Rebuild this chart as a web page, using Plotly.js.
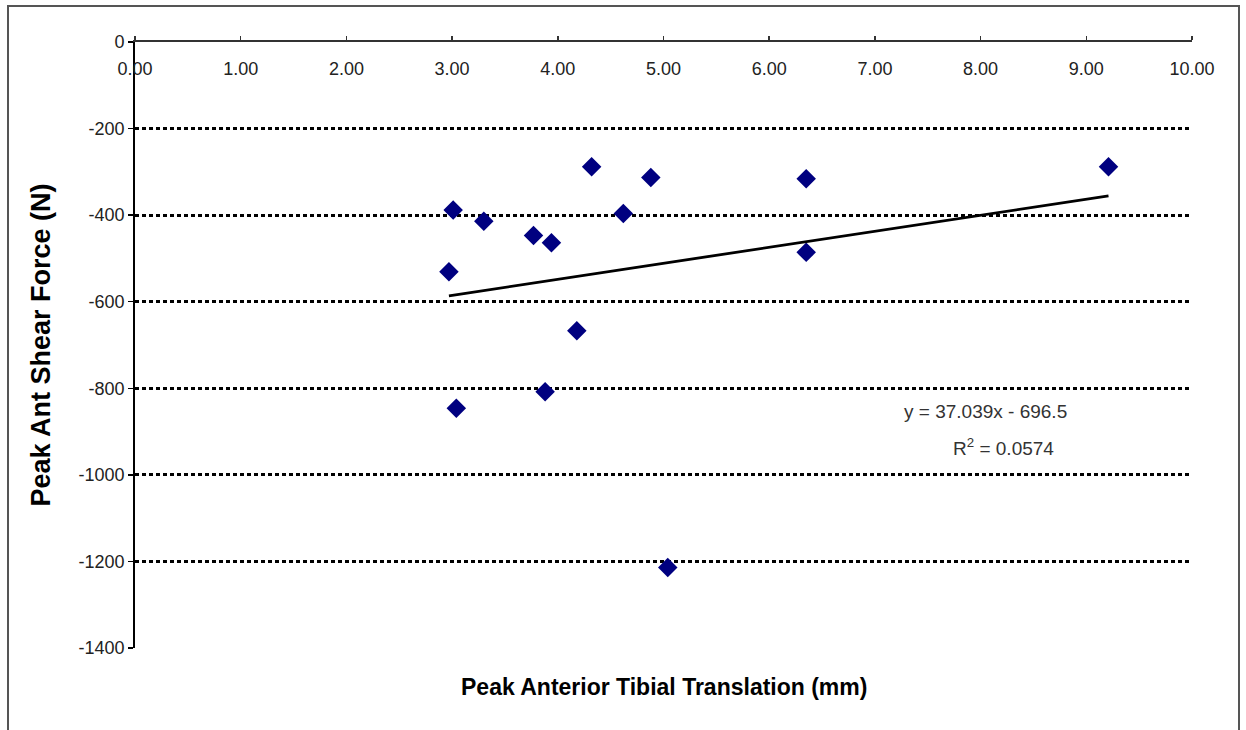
<!DOCTYPE html>
<html>
<head>
<meta charset="utf-8">
<script src="https://cdn.plot.ly/plotly-3.0.1.min.js"></script>
<style>html,body{margin:0;padding:0;background:#fff;}#chart{width:1246px;height:730px;}</style>
</head>
<body>
<div id="chart"></div>
<script>
// Data
const translationMm = [2.97, 3.01, 3.04, 3.30, 3.77, 3.94, 3.88, 4.18, 4.32, 4.62, 4.88, 5.04, 6.35, 6.35, 9.21];
const shearForceN   = [-531, -388, -846, -414, -447, -464, -808, -667, -288, -396, -313, -1214, -316, -486, -288];
const trendSlope = 37.039;
const trendIntercept = -696.5;
const trendR2 = 0.0574;
const xTickVals = [0,1,2,3,4,5,6,7,8,9,10];
const yTickVals = [0,-200,-400,-600,-800,-1000,-1200,-1400];
const yTickText = ['0','-200','-400','-600','-800','-1000','-1200','-1400'];

const xMin = Math.min(...translationMm), xMax = Math.max(...translationMm);
const trendX = [xMin, xMax];
const trendY = trendX.map(x => trendSlope * x + trendIntercept);

const data = [
  {x: translationMm, y: shearForceN, type: 'scatter', mode: 'markers',
   marker: {symbol: 'diamond', size: 15, color: '#000080'}, cliponaxis: false, showlegend: false},
  {x: trendX, y: trendY, type: 'scatter', mode: 'lines',
   line: {color: '#000', width: 2.8}, showlegend: false},
  // carrier for the tick-label axis (draws nothing)
  {x: trendX, y: trendY, xaxis: 'x2', yaxis: 'y', type: 'scatter', mode: 'none', showlegend: false, hoverinfo: 'skip'}
];

const layout = {
  width: 1246, height: 730,
  margin: {l: 135, r: 54, t: 42, b: 82},
  paper_bgcolor: '#fff', plot_bgcolor: '#fff',
  font: {family: 'Arial, Liberation Sans, sans-serif', size: 18, color: '#222'},
  showlegend: false,
  xaxis: {
    range: [0, 10], side: 'top', tickvals: xTickVals, showticklabels: false,
    ticks: 'outside', ticklen: 4, tickcolor: '#333', tickwidth: 1.5,
    showline: true, linecolor: '#333', linewidth: 1.8, showgrid: false, zeroline: false
  },
  xaxis2: {
    range: [0, 10], overlaying: 'x', anchor: 'free', position: (648 - 56) / 606, side: 'bottom',
    tickvals: xTickVals, tickformat: '.2f', ticks: '', showline: false, showgrid: false, zeroline: false,
    tickfont: {size: 18, color: '#222'}
  },
  yaxis: {
    range: [-1400, 0], tickvals: yTickVals, ticktext: yTickText,
    ticks: 'outside', ticklen: 5, tickcolor: '#000', tickwidth: 1.5,
    showline: true, linecolor: '#000', linewidth: 1.8, zeroline: false,
    showgrid: true, gridcolor: '#000', gridwidth: 3, griddash: '4px,3px',
    tickfont: {size: 18, color: '#222'},
    title: {text: '<b>Peak Ant Shear Force (N)</b>', font: {size: 27, color: '#000'}, standoff: 20}
  },
  annotations: [
    {xref: 'x domain', yref: 'paper', x: 0.5, y: (648 - 687) / 606, yanchor: 'middle', xanchor: 'center', showarrow: false,
     text: '<b>Peak Anterior Tibial Translation (mm)</b>', font: {size: 23, color: '#000'}},
    {xref: 'paper', yref: 'paper', x: (985 - 135) / 1057, y: (648 - 411) / 606, xanchor: 'center', yanchor: 'middle', showarrow: false,
     text: 'y = ' + trendSlope + 'x - ' + Math.abs(trendIntercept), font: {size: 19, color: '#333'}},
    {xref: 'paper', yref: 'paper', x: (1003 - 135) / 1057, y: (648 - 447) / 606, xanchor: 'center', yanchor: 'middle', showarrow: false,
     text: 'R<sup>2</sup> = ' + trendR2, font: {size: 19, color: '#333'}}
  ],
  shapes: [
    {type: 'rect', xref: 'paper', yref: 'paper', x0: (8 - 135) / 1057, x1: (1239 - 135) / 1057,
     y0: (648 - 760) / 606, y1: (648 - 6) / 606, line: {color: '#555', width: 2}, layer: 'below'}
  ]
};

Plotly.newPlot('chart', data, layout, {staticPlot: true, displayModeBar: false});
</script>
</body>
</html>
